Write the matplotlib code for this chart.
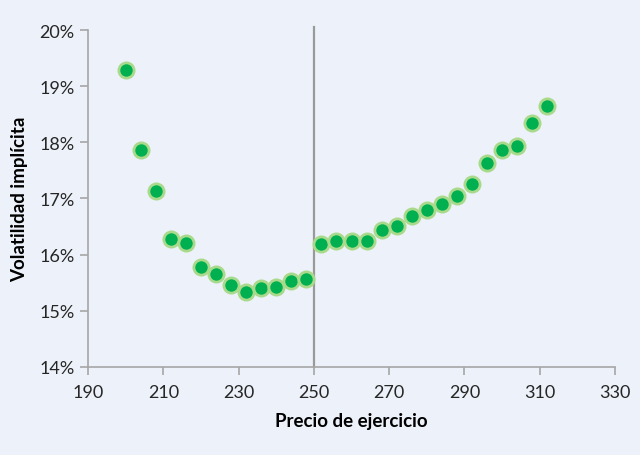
import numpy as np
import matplotlib.pyplot as plt
from matplotlib.ticker import FuncFormatter

strike = [200, 204, 208, 212, 216, 220, 224, 228, 232, 236, 240, 244, 248,
          252, 256, 260, 264, 268, 272, 276, 280, 284, 288, 292, 296, 300,
          304, 308, 312]
vol = [19.29, 17.86, 17.14, 16.28, 16.21, 15.78, 15.66, 15.46, 15.34, 15.41,
       15.43, 15.53, 15.57, 16.19, 16.25, 16.25, 16.25, 16.44, 16.51, 16.69,
       16.80, 16.90, 17.05, 17.26, 17.63, 17.86, 17.94, 18.35, 18.65]
spot = 250

plt.rcParams['font.family'] = ['Lato', 'DejaVu Sans']
bg = '#EDF1F9'
grey = '#A6A6A6'

fig = plt.figure(figsize=(6.4, 4.56), dpi=100, facecolor=bg)
ax = fig.add_axes([0.1375, 0.193, 0.8235, 0.739], facecolor=bg)

# strike price of the underlying
ax.plot([spot, spot], [14, 20.05], color='#9A9A9A', lw=1.6, clip_on=False, zorder=1)

ax.scatter(strike, vol, s=120, color='#00B050', edgecolors='#A9DA8C',
           linewidths=2, zorder=3)

ax.set_xlim(190, 330)
ax.set_ylim(14, 20)
ax.set_xticks(np.arange(190, 331, 20))
ax.set_yticks(np.arange(14, 20.1, 1))
ax.yaxis.set_major_formatter(FuncFormatter(lambda v, p: f'{v:.0f}%'))

for s in ['top', 'right']:
    ax.spines[s].set_visible(False)
for s in ['left', 'bottom']:
    ax.spines[s].set_color(grey)
    ax.spines[s].set_linewidth(1.2)
ax.tick_params(colors=grey, length=6, width=1.2, labelcolor='#262626', labelsize=13)
ax.tick_params(axis='x', pad=6)

ax.set_xlabel('Precio de ejercicio', fontsize=13.5, fontweight='bold', labelpad=9)
ax.set_ylabel('Volatilidad implícita', fontsize=13.5, fontweight='bold', labelpad=8)

fig.savefig('out.png', dpi=100, facecolor=bg)
